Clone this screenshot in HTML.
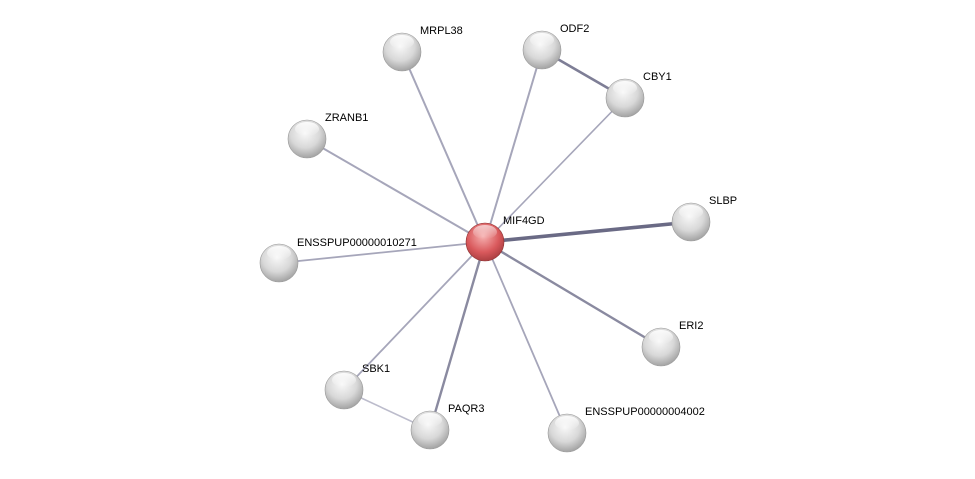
<!DOCTYPE html>
<html><head><meta charset="utf-8"><style>
html,body{margin:0;padding:0;background:#fff;}
svg{display:block;}
text{font-family:"Liberation Sans",sans-serif;font-size:11px;fill:#000;}
</style></head><body>
<svg width="975" height="479" viewBox="0 0 975 479" xmlns="http://www.w3.org/2000/svg">
<defs>
<radialGradient id="g" cx="0.45" cy="0.35" r="0.7">
<stop offset="0" stop-color="#f8f8f8"/><stop offset="0.55" stop-color="#d8d8d8"/><stop offset="1" stop-color="#999"/>
</radialGradient>
<radialGradient id="r" cx="0.45" cy="0.35" r="0.7">
<stop offset="0" stop-color="#f6b0b0"/><stop offset="0.6" stop-color="#d9595c"/><stop offset="1" stop-color="#a33a3c"/>
</radialGradient>
<linearGradient id="hl" x1="0" y1="0" x2="0" y2="1">
<stop offset="0" stop-color="#fff" stop-opacity="0.9"/><stop offset="1" stop-color="#fff" stop-opacity="0"/>
</linearGradient>
</defs>
<g stroke-linecap="round">
<line x1="485" y1="242" x2="402" y2="52" stroke="#a6a6ba" stroke-width="2"/>
<line x1="485" y1="242" x2="542" y2="50" stroke="#a6a6ba" stroke-width="2"/>
<line x1="485" y1="242" x2="625" y2="98" stroke="#a6a6ba" stroke-width="1.6"/>
<line x1="542" y1="50" x2="625" y2="98" stroke="#7e7e96" stroke-width="2.6"/>
<line x1="485" y1="242" x2="307" y2="139" stroke="#a6a6ba" stroke-width="2"/>
<line x1="485" y1="242" x2="691" y2="222" stroke="#6a6a85" stroke-width="3.6"/>
<line x1="485" y1="242" x2="279" y2="263" stroke="#a6a6ba" stroke-width="1.8"/>
<line x1="485" y1="242" x2="661" y2="347" stroke="#8a8aa0" stroke-width="2.4"/>
<line x1="485" y1="242" x2="344" y2="390" stroke="#a6a6ba" stroke-width="1.8"/>
<line x1="485" y1="242" x2="430" y2="430" stroke="#8a8aa0" stroke-width="2.4"/>
<line x1="485" y1="242" x2="567" y2="433" stroke="#a6a6ba" stroke-width="1.8"/>
<line x1="344" y1="390" x2="430" y2="430" stroke="#bcbccc" stroke-width="1.6"/>
</g>
<g stroke="#999" stroke-width="0.6">
<circle cx="402" cy="52" r="19" fill="url(#g)"/>
<circle cx="542" cy="50" r="19" fill="url(#g)"/>
<circle cx="625" cy="98" r="19" fill="url(#g)"/>
<circle cx="307" cy="139" r="19" fill="url(#g)"/>
<circle cx="691" cy="222" r="19" fill="url(#g)"/>
<circle cx="279" cy="263" r="19" fill="url(#g)"/>
<circle cx="661" cy="347" r="19" fill="url(#g)"/>
<circle cx="344" cy="390" r="19" fill="url(#g)"/>
<circle cx="430" cy="430" r="19" fill="url(#g)"/>
<circle cx="567" cy="433" r="19" fill="url(#g)"/>
<circle cx="485" cy="242" r="19" fill="url(#r)" stroke="#8a3030"/>
</g>
<g fill="url(#hl)">
<ellipse cx="402" cy="42" rx="12" ry="7"/><ellipse cx="542" cy="40" rx="12" ry="7"/>
<ellipse cx="625" cy="88" rx="12" ry="7"/><ellipse cx="307" cy="129" rx="12" ry="7"/>
<ellipse cx="691" cy="212" rx="12" ry="7"/><ellipse cx="279" cy="253" rx="12" ry="7"/>
<ellipse cx="661" cy="337" rx="12" ry="7"/><ellipse cx="344" cy="380" rx="12" ry="7"/>
<ellipse cx="430" cy="420" rx="12" ry="7"/><ellipse cx="567" cy="423" rx="12" ry="7"/>
<ellipse cx="485" cy="232" rx="12" ry="7" opacity="0.7"/>
</g>
<text x="420" y="34">MRPL38</text>
<text x="560" y="32">ODF2</text>
<text x="643" y="80">CBY1</text>
<text x="325" y="121">ZRANB1</text>
<text x="503" y="224">MIF4GD</text>
<text x="709" y="204">SLBP</text>
<text x="297" y="246">ENSSPUP00000010271</text>
<text x="679" y="329">ERI2</text>
<text x="362" y="372">SBK1</text>
<text x="448" y="412">PAQR3</text>
<text x="585" y="415">ENSSPUP00000004002</text>
</svg>
</body></html>
